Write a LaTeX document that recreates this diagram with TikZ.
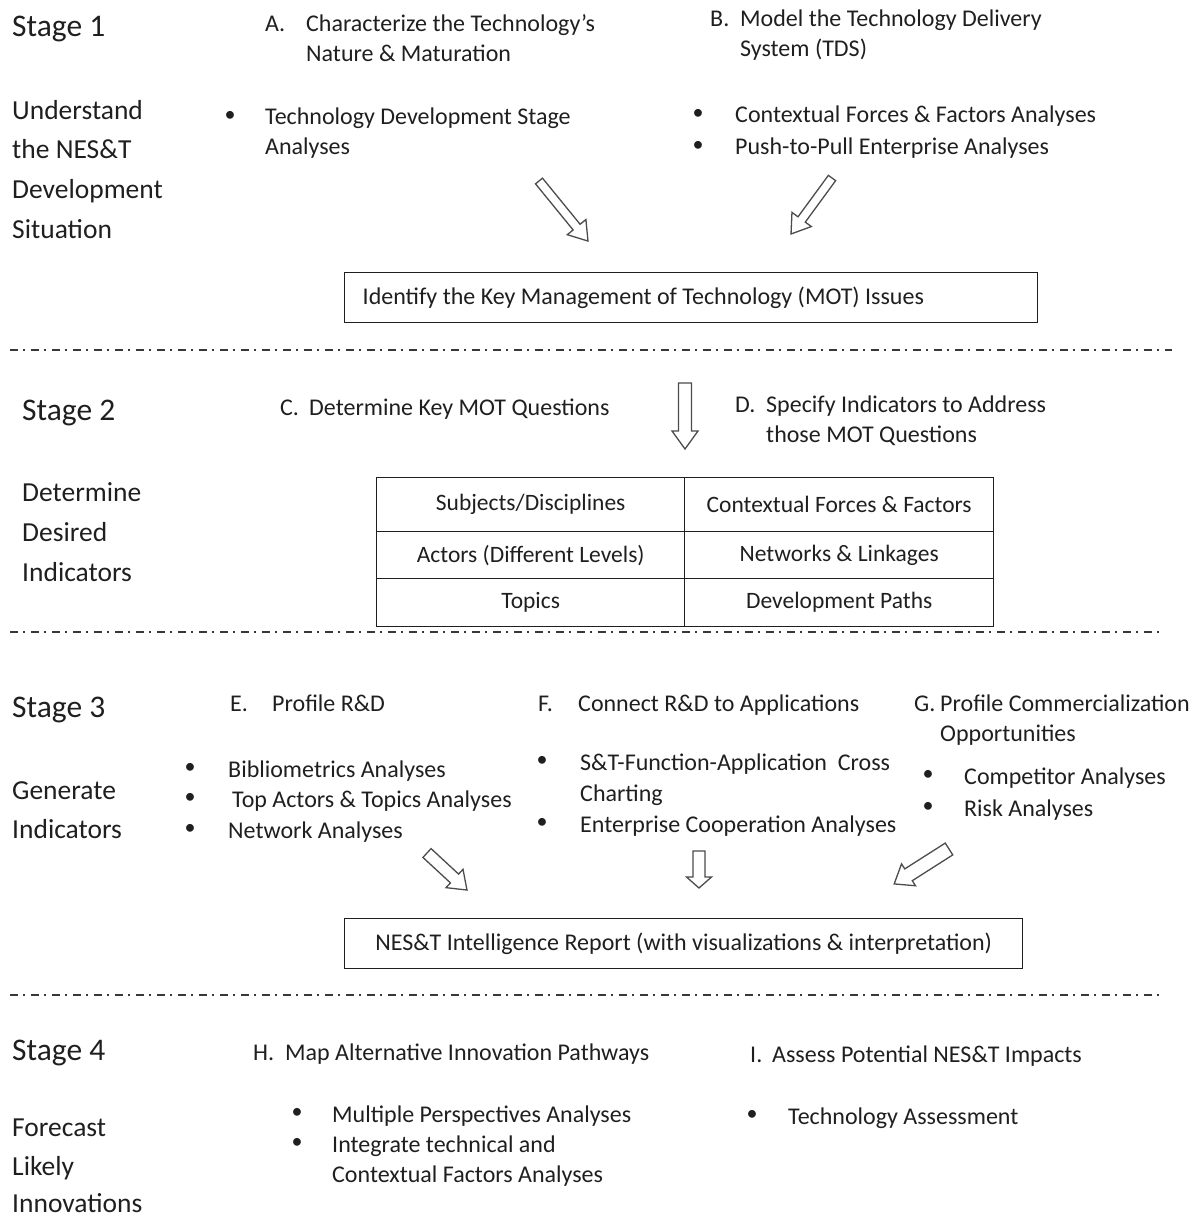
\documentclass[tikz,border=0pt]{standalone}
\usepackage{fontspec}
\setmainfont{Carlito}
\begin{document}
\begin{tikzpicture}[x=1pt,y=-1pt,
  ink/.style={black!88},
  stagelbl/.style={anchor=west,inner sep=0pt,yshift=-10pt,text height=0.5em,text depth=0.5em,ink,font=\fontsize{31.5}{36}\selectfont},
  sidetxt/.style={anchor=west,inner sep=0pt,yshift=-9.5pt,text height=0.5em,text depth=0.5em,ink,font=\fontsize{27.5}{32}\selectfont},
  bodytxt/.style={anchor=west,inner sep=0pt,yshift=-9pt,text height=0.5em,text depth=0.5em,ink,font=\fontsize{24}{28}\selectfont},
  bul/.style={anchor=center,inner sep=0pt,ink,font=\fontsize{22}{28}\selectfont},
  framebox/.style={draw=black!80,line width=1.4pt,inner sep=0pt,ink,font=\fontsize{24}{28}\selectfont},
  cell/.style={draw=black!80,line width=1.4pt,inner sep=0pt,anchor=north west,ink,font=\fontsize{23.5}{28}\selectfont},
  sepline/.style={black!78,line width=1.9pt,dash pattern=on 8pt off 5pt on 2pt off 6pt},
  arrowline/.style={draw=black!70,line width=1.3pt,fill=white,line join=miter}
]
\useasboundingbox (0,0) rectangle (1199,1217);

% block arrow: tail x, tail y, angle, length, half shaft, half head, head length
\newcommand\blockarrow[7]{%
  \begin{scope}[shift={(#1,#2)},rotate=#3]
    \draw[arrowline] (0,-#5) -- ({#4-#7},-#5) -- ({#4-#7},-#6) -- (#4,0)
      -- ({#4-#7},#6) -- ({#4-#7},#5) -- (0,#5) -- cycle;
  \end{scope}}

% ---------------- Stage 1 ----------------
\node[stagelbl] (st1) at (12,27) {Stage 1};
\node[sidetxt] (st1a) at (12,110) {Understand};
\node[sidetxt] (st1b) at (12,149) {the NES\&T};
\node[sidetxt] (st1c) at (12,189) {Development};
\node[sidetxt] (st1d) at (12,229) {Situation};

\node[bodytxt] (aL) at (265,23) {A.};
\node[bodytxt] (aT1) at (306,23) {Characterize the Technology’s};
\node[bodytxt] (aT2) at (306,53) {Nature \& Maturation};
\node[bodytxt] (bL) at (710,18) {B.};
\node[bodytxt] (bT1) at (740,18) {Model the Technology Delivery};
\node[bodytxt] (bT2) at (740,48) {System (TDS)};

\node[bul] (aB1) at (230,116) {•};
\node[bodytxt] (aI1) at (265,116) {Technology Development Stage};
\node[bodytxt] (aI2) at (265,146) {Analyses};
\node[bul] (bB1) at (698,114) {•};
\node[bodytxt] (bI1) at (735,114) {Contextual Forces \& Factors Analyses};
\node[bul] (bB2) at (698,146) {•};
\node[bodytxt] (bI2) at (735,146) {Push-to-Pull Enterprise Analyses};

\blockarrow{539}{181}{-50.8}{77.5}{4.5}{12}{18}
\blockarrow{832}{178}{-126.2}{69.4}{4.5}{12}{18}

\node[framebox,minimum width=693pt,minimum height=50pt,anchor=north west] (mot) at (344,272)
  {\makebox[657pt][l]{Identify the Key Management of Technology (MOT) Issues}};

\draw[sepline] (10,350) -- (1172,350);

% ---------------- Stage 2 ----------------
\node[stagelbl] (st2) at (22,410) {Stage 2};
\node[sidetxt] (st2a) at (22,492) {Determine};
\node[sidetxt] (st2b) at (22,532) {Desired};
\node[sidetxt] (st2c) at (22,572) {Indicators};

\node[bodytxt] (cL) at (280,406) {C.};
\node[bodytxt] (cT) at (309,406) {Determine Key MOT Questions};
\node[bodytxt] (dL) at (735,403) {D.};
\node[bodytxt] (dT1) at (766,403) {Specify Indicators to Address};
\node[bodytxt] (dT2) at (766,433) {those MOT Questions};

\blockarrow{685}{383}{-90}{66}{6.5}{13}{18}

\node[cell,minimum width=308pt,minimum height=54pt] (c11) at (376,477) {Subjects/Disciplines};
\node[cell,minimum width=309pt,minimum height=54pt] (c12) at (684,477) {Contextual Forces \& Factors};
\node[cell,minimum width=308pt,minimum height=47pt] (c21) at (376,531) {Actors (Different Levels)};
\node[cell,minimum width=309pt,minimum height=47pt] (c22) at (684,531) {Networks \& Linkages};
\node[cell,minimum width=308pt,minimum height=48pt] (c31) at (376,578) {Topics};
\node[cell,minimum width=309pt,minimum height=48pt] (c32) at (684,578) {Development Paths};

\draw[sepline] (10,632) -- (1160,632);

% ---------------- Stage 3 ----------------
\node[stagelbl] (st3) at (12,707) {Stage 3};
\node[sidetxt] (st3a) at (12,790) {Generate};
\node[sidetxt] (st3b) at (12,829) {Indicators};

\node[bodytxt] (eL) at (230,702) {E.};
\node[bodytxt] (eT) at (272,702) {Profile R\&D};
\node[bul] (eB1) at (190,768) {•};
\node[bodytxt] (eI1) at (228,768) {Bibliometrics Analyses};
\node[bul] (eB2) at (190,798) {•};
\node[bodytxt] (eI2) at (232,798) {Top Actors \& Topics Analyses};
\node[bul] (eB3) at (190,829) {•};
\node[bodytxt] (eI3) at (228,829) {Network Analyses};

\node[bodytxt] (fL) at (538,702) {F.};
\node[bodytxt] (fT) at (578,702) {Connect R\&D to Applications};
\node[bul] (fB1) at (542,761) {•};
\node[bodytxt] (fI1) at (580,761) {S\&T-Function-Application\ \ Cross};
\node[bodytxt] (fI1b) at (580,792) {Charting};
\node[bul] (fB2) at (542,823) {•};
\node[bodytxt] (fI2) at (580,823) {Enterprise Cooperation Analyses};

\node[bodytxt] (gL) at (914,702) {G.};
\node[bodytxt] (gT1) at (940,702) {Profile Commercialization};
\node[bodytxt] (gT2) at (940,732) {Opportunities};
\node[bul] (gB1) at (928,775) {•};
\node[bodytxt] (gI1) at (964,775) {Competitor Analyses};
\node[bul] (gB2) at (928,807) {•};
\node[bodytxt] (gI2) at (964,807) {Risk Analyses};

\blockarrow{427}{853}{-42.8}{54.5}{6}{12.5}{17}
\blockarrow{699}{851}{-90}{37}{6}{12.5}{11}
\blockarrow{949}{849}{-147.5}{65}{7}{13}{17}

\node[framebox,minimum width=678pt,minimum height=50pt,anchor=north west] (rep) at (344,918)
  {\makebox[678pt]{NES\&T Intelligence Report (with visualizations \& interpretation)}};

\draw[sepline] (10,995) -- (1160,995);

% ---------------- Stage 4 ----------------
\node[stagelbl] (st4) at (12,1050) {Stage 4};
\node[sidetxt] (st4a) at (12,1127) {Forecast};
\node[sidetxt] (st4b) at (12,1166) {Likely};
\node[sidetxt] (st4c) at (12,1203) {Innovations};

\node[bodytxt] (hL) at (253,1051) {H.};
\node[bodytxt] (hT) at (285,1051) {Map Alternative Innovation Pathways};
\node[bul] (hB1) at (297,1113) {•};
\node[bodytxt] (hI1) at (332,1113) {Multiple Perspectives Analyses};
\node[bul] (hB2) at (297,1143) {•};
\node[bodytxt] (hI2) at (332,1143) {Integrate technical and};
\node[bodytxt] (hI2b) at (332,1173) {Contextual Factors Analyses};

\node[bodytxt] (iL) at (750,1053) {I.};
\node[bodytxt] (iT) at (772,1053) {Assess Potential NES\&T Impacts};
\node[bul] (iB1) at (752,1115) {•};
\node[bodytxt] (iI1) at (788,1115) {Technology Assessment};
\end{tikzpicture}
\end{document}
